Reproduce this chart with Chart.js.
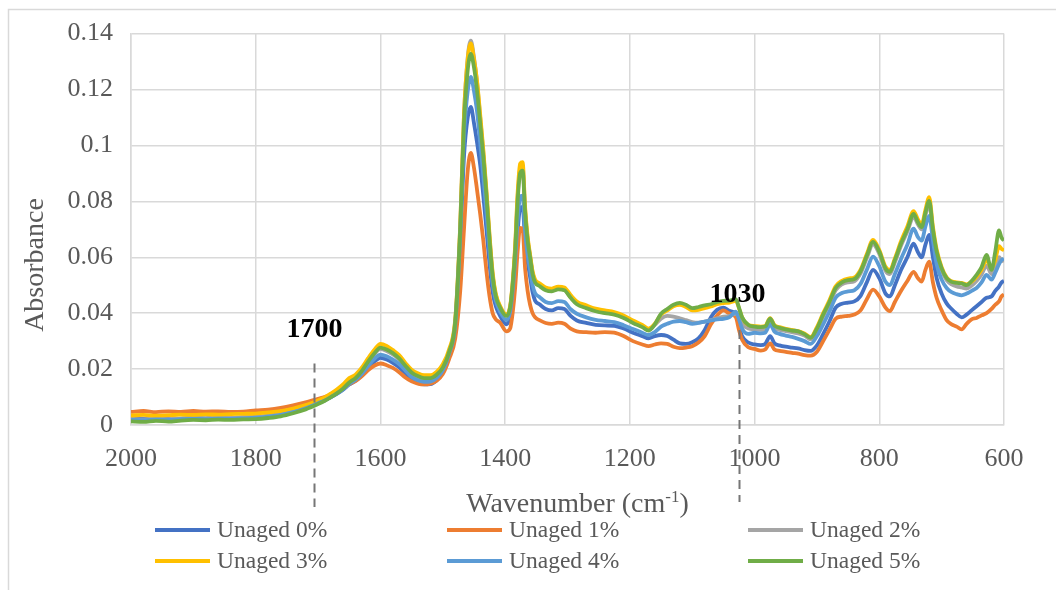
<!DOCTYPE html>
<html>
<head>
<meta charset="utf-8">
<script src="https://cdn.jsdelivr.net/npm/chart.js@4.4.1/dist/chart.umd.min.js"></script>
<style>
html,body{margin:0;padding:0;background:#fff;}
#wrap{width:1056px;height:590px;position:relative;}
canvas{display:block;}
</style>
</head>
<body>
<div id="wrap"><canvas id="c" width="1056" height="590"></canvas></div>
<script>
// ---------- DATA ----------
const wavenumbers = [
  2000,1980,1960,1940,1920,1900,1880,1860,1840,1820,1800,1780,1760,1740,1720,1700,
  1690,1680,1670,1660,1650,1640,1630,1620,1610,1600,1590,1580,1570,1560,1550,1540,1530,1520,1510,1500,
  1490,1480,1472,1466,1460,1455,1450,1445,1440,1435,1430,1425,1420,1415,1408,1398,1392,1388,1384,1380,1376,1372,1368,1364,1360,1356,1352,1345,
  1335,1325,1315,1305,1295,1285,1270,1255,1240,1225,1210,1195,1180,1170,1160,1150,1140,1130,1120,1110,1100,1090,1080,1070,1060,1050,1040,1030,1025,1020,1010,1000,990,983,975,968,960,950,940,930,920,910,
  900,890,880,870,860,850,840,830,820,810,800,790,783,775,765,755,745,738,732,726,720,714,708,700,692,684,676,668,660,652,644,636,628,620,614,608,604,600
];

const unaged0 = [
  0.0021,0.0023,0.0020,0.0024,0.0022,0.0025,0.0024,0.0026,0.0025,0.0027,0.0029,0.0033,0.0039,0.0049,0.0063,0.0080,
  0.0088,0.0099,0.0111,0.0126,0.0145,0.0158,0.0178,0.0203,0.0226,0.0240,0.0234,0.0222,0.0206,0.0184,0.0162,0.0150,0.0145,0.0146,0.0160,0.0188,
  0.0250,0.0350,0.0650,0.0960,0.1100,0.1138,0.1080,0.1010,0.0930,0.0820,0.0700,0.0575,0.0475,0.0425,0.0390,0.0360,0.0390,0.0460,0.0560,0.0690,0.0775,0.0780,0.0660,0.0585,0.0530,0.0475,0.0445,0.0432,
  0.0415,0.0410,0.0418,0.0415,0.0390,0.0374,0.0365,0.0358,0.0356,0.0355,0.0345,0.0330,0.0318,0.0310,0.0318,0.0322,0.0318,0.0305,0.0292,0.0290,0.0296,0.0310,0.0340,0.0385,0.0412,0.0420,0.0408,0.0398,0.0355,0.0318,0.0295,0.0288,0.0286,0.0290,0.0318,0.0292,0.0285,0.0280,0.0277,0.0274,0.0268,0.0265,
  0.0285,0.0325,0.0370,0.0420,0.0434,0.0438,0.0442,0.0462,0.0510,0.0555,0.0525,0.0470,0.0460,0.0500,0.0555,0.0600,0.0649,0.0618,0.0600,0.0645,0.0680,0.0600,0.0525,0.0470,0.0435,0.0415,0.0398,0.0385,0.0395,0.0410,0.0425,0.0440,0.0455,0.0460,0.0480,0.0495,0.0510,0.0515
];

const unaged1 = [
  0.0047,0.0050,0.0046,0.0049,0.0047,0.0050,0.0048,0.0049,0.0047,0.0048,0.0052,0.0055,0.0061,0.0070,0.0081,0.0094,
  0.0100,0.0108,0.0118,0.0131,0.0146,0.0157,0.0174,0.0196,0.0212,0.0220,0.0214,0.0204,0.0189,0.0170,0.0156,0.0148,0.0145,0.0148,0.0158,0.0182,
  0.0235,0.0310,0.0480,0.0700,0.0910,0.0973,0.0920,0.0840,0.0755,0.0660,0.0550,0.0460,0.0400,0.0378,0.0366,0.0335,0.0345,0.0400,0.0490,0.0620,0.0705,0.0700,0.0560,0.0480,0.0430,0.0400,0.0385,0.0375,
  0.0365,0.0362,0.0366,0.0362,0.0345,0.0335,0.0332,0.0330,0.0332,0.0330,0.0318,0.0300,0.0288,0.0282,0.0288,0.0292,0.0290,0.0280,0.0275,0.0277,0.0282,0.0295,0.0318,0.0360,0.0392,0.0410,0.0398,0.0385,0.0340,0.0305,0.0278,0.0272,0.0266,0.0270,0.0292,0.0270,0.0265,0.0262,0.0258,0.0255,0.0250,0.0248,
  0.0262,0.0300,0.0340,0.0380,0.0388,0.0390,0.0395,0.0410,0.0450,0.0484,0.0460,0.0420,0.0407,0.0440,0.0480,0.0515,0.0548,0.0525,0.0513,0.0555,0.0584,0.0510,0.0454,0.0410,0.0375,0.0360,0.0352,0.0342,0.0362,0.0378,0.0383,0.0392,0.0400,0.0415,0.0430,0.0442,0.0460,0.0467
];

const unaged2 = [
  0.0022,0.0020,0.0023,0.0021,0.0024,0.0025,0.0024,0.0026,0.0025,0.0027,0.0029,0.0033,0.0039,0.0049,0.0062,0.0080,
  0.0090,0.0103,0.0117,0.0134,0.0155,0.0170,0.0192,0.0223,0.0252,0.0272,0.0265,0.0252,0.0234,0.0208,0.0184,0.0171,0.0164,0.0164,0.0176,0.0202,
  0.0262,0.0375,0.0715,0.1110,0.1315,0.1375,0.1315,0.1225,0.1100,0.0975,0.0830,0.0670,0.0538,0.0465,0.0422,0.0392,0.0422,0.0505,0.0630,0.0815,0.0915,0.0925,0.0770,0.0668,0.0605,0.0545,0.0515,0.0500,
  0.0485,0.0480,0.0487,0.0484,0.0457,0.0435,0.0420,0.0409,0.0402,0.0397,0.0385,0.0367,0.0352,0.0340,0.0358,0.0380,0.0390,0.0388,0.0382,0.0375,0.0368,0.0366,0.0370,0.0375,0.0382,0.0388,0.0390,0.0398,0.0385,0.0362,0.0345,0.0342,0.0340,0.0342,0.0370,0.0346,0.0340,0.0336,0.0332,0.0328,0.0320,0.0306,
  0.0338,0.0388,0.0432,0.0482,0.0503,0.0510,0.0514,0.0542,0.0597,0.0646,0.0612,0.0552,0.0540,0.0582,0.0642,0.0692,0.0745,0.0717,0.0700,0.0750,0.0790,0.0690,0.0612,0.0553,0.0518,0.0503,0.0496,0.0492,0.0488,0.0498,0.0515,0.0538,0.0570,0.0540,0.0565,0.0600,0.0590,0.0585
];

const unaged3 = [
  0.0034,0.0036,0.0033,0.0035,0.0037,0.0036,0.0038,0.0037,0.0039,0.0040,0.0041,0.0045,0.0050,0.0059,0.0071,0.0088,
  0.0098,0.0112,0.0127,0.0145,0.0168,0.0180,0.0205,0.0238,0.0268,0.0290,0.0283,0.0268,0.0250,0.0222,0.0198,0.0185,0.0178,0.0178,0.0190,0.0218,
  0.0270,0.0380,0.0720,0.1110,0.1310,0.1365,0.1310,0.1230,0.1110,0.0985,0.0840,0.0680,0.0545,0.0470,0.0425,0.0395,0.0425,0.0510,0.0640,0.0830,0.0935,0.0940,0.0780,0.0675,0.0610,0.0550,0.0520,0.0507,
  0.0492,0.0488,0.0495,0.0492,0.0465,0.0442,0.0428,0.0416,0.0410,0.0404,0.0392,0.0374,0.0358,0.0345,0.0362,0.0395,0.0410,0.0425,0.0430,0.0422,0.0410,0.0412,0.0418,0.0424,0.0432,0.0436,0.0438,0.0444,0.0418,0.0385,0.0358,0.0354,0.0352,0.0354,0.0382,0.0357,0.0350,0.0344,0.0340,0.0336,0.0327,0.0315,
  0.0350,0.0400,0.0446,0.0496,0.0516,0.0524,0.0528,0.0556,0.0612,0.0662,0.0626,0.0566,0.0554,0.0596,0.0658,0.0710,0.0765,0.0735,0.0718,0.0770,0.0815,0.0710,0.0628,0.0565,0.0528,0.0514,0.0510,0.0508,0.0503,0.0512,0.0530,0.0555,0.0590,0.0560,0.0590,0.0640,0.0630,0.0625
];

const unaged4 = [
  0.0019,0.0017,0.0020,0.0018,0.0021,0.0022,0.0021,0.0023,0.0022,0.0024,0.0026,0.0030,0.0036,0.0046,0.0060,0.0078,
  0.0087,0.0099,0.0112,0.0128,0.0148,0.0162,0.0183,0.0210,0.0236,0.0252,0.0246,0.0234,0.0218,0.0195,0.0172,0.0160,0.0154,0.0155,0.0168,0.0195,
  0.0255,0.0360,0.0680,0.1030,0.1195,0.1245,0.1195,0.1120,0.1010,0.0890,0.0760,0.0620,0.0505,0.0445,0.0405,0.0375,0.0405,0.0480,0.0590,0.0730,0.0815,0.0820,0.0690,0.0610,0.0555,0.0500,0.0472,0.0458,
  0.0440,0.0436,0.0443,0.0440,0.0414,0.0398,0.0385,0.0376,0.0372,0.0368,0.0357,0.0343,0.0330,0.0322,0.0332,0.0352,0.0362,0.0370,0.0372,0.0368,0.0362,0.0365,0.0370,0.0374,0.0378,0.0380,0.0386,0.0405,0.0378,0.0345,0.0326,0.0330,0.0328,0.0330,0.0360,0.0334,0.0326,0.0320,0.0315,0.0308,0.0300,0.0290,
  0.0318,0.0360,0.0405,0.0455,0.0472,0.0478,0.0482,0.0505,0.0555,0.0602,0.0568,0.0512,0.0500,0.0540,0.0595,0.0645,0.0702,0.0672,0.0660,0.0710,0.0748,0.0660,0.0575,0.0520,0.0490,0.0475,0.0468,0.0464,0.0470,0.0480,0.0490,0.0510,0.0537,0.0520,0.0545,0.0575,0.0590,0.0595
];

const unaged5 = [
  0.0013,0.0011,0.0015,0.0012,0.0016,0.0018,0.0017,0.0019,0.0018,0.0020,0.0021,0.0025,0.0031,0.0042,0.0056,0.0075,
  0.0086,0.0099,0.0113,0.0130,0.0152,0.0168,0.0193,0.0226,0.0256,0.0277,0.0270,0.0257,0.0238,0.0212,0.0188,0.0175,0.0168,0.0168,0.0180,0.0205,
  0.0260,0.0370,0.0700,0.1080,0.1270,0.1327,0.1280,0.1195,0.1080,0.0960,0.0820,0.0660,0.0530,0.0460,0.0420,0.0390,0.0420,0.0500,0.0620,0.0800,0.0900,0.0910,0.0760,0.0660,0.0600,0.0540,0.0510,0.0497,
  0.0482,0.0478,0.0485,0.0482,0.0455,0.0432,0.0418,0.0407,0.0400,0.0395,0.0383,0.0365,0.0350,0.0338,0.0360,0.0398,0.0415,0.0430,0.0437,0.0430,0.0418,0.0422,0.0428,0.0432,0.0440,0.0444,0.0445,0.0450,0.0420,0.0385,0.0358,0.0352,0.0350,0.0352,0.0380,0.0355,0.0348,0.0342,0.0338,0.0335,0.0325,0.0312,
  0.0345,0.0395,0.0440,0.0490,0.0510,0.0518,0.0522,0.0550,0.0605,0.0655,0.0620,0.0560,0.0548,0.0590,0.0650,0.0700,0.0755,0.0725,0.0708,0.0760,0.0802,0.0700,0.0620,0.0560,0.0525,0.0512,0.0508,0.0507,0.0500,0.0515,0.0537,0.0565,0.0608,0.0555,0.0620,0.0696,0.0670,0.0660
];

const seriesLabels = ['Unaged 0%','Unaged 1%','Unaged 2%','Unaged 3%','Unaged 4%','Unaged 5%'];
const seriesColors = ['#4472C4','#ED7D31','#A5A5A5','#FFC000','#5B9BD5','#70AD47'];
const xTickValues = [2000,1800,1600,1400,1200,1000,800,600];
const yTickValues = [0,0.02,0.04,0.06,0.08,0.1,0.12,0.14];
const markerWavenumbers = [1707,1025];
const markerTexts = ['1700','1030'];
const markerLabelValues = [0.034,0.0467];
const markerTopValues = [0.022,0.034];
const xTitle = 'Wavenumber (cm';
const xTitleSup = '-1';
const yTitle = 'Absorbance';

// ---------- CHART ----------
const SERIF = "'Liberation Serif','Times New Roman',serif";
const allSeries = [unaged0,unaged1,unaged2,unaged3,unaged4,unaged5];
const datasets = allSeries.map((arr,i)=>({
  label: seriesLabels[i],
  data: wavenumbers.map((w,k)=>({x:w,y:arr[k]})),
  borderColor: seriesColors[i],
  backgroundColor: seriesColors[i],
  borderWidth: 3.8,
  pointRadius: 0,
  fill: false,
  cubicInterpolationMode: 'monotone',
  order: allSeries.length - 1 - i
}));

const decor = {
  id: 'decor',
  beforeDraw(chart){
    const ctx = chart.ctx;
    ctx.save();
    ctx.strokeStyle = '#d9d9d9';
    ctx.lineWidth = 1.5;
    ctx.beginPath();
    ctx.moveTo(8.5, 590); ctx.lineTo(8.5, 9.5); ctx.lineTo(1056, 9.5);
    ctx.stroke();
    ctx.restore();
  },
  afterDraw(chart){
    const ctx = chart.ctx;
    const xs = chart.scales.x, ys = chart.scales.y;
    ctx.save();
    // marker dashed lines and labels
    const bottoms = [507, 502];
    markerWavenumbers.forEach((w,i)=>{
      const px = Math.round(xs.getPixelForValue(w)) + 0.5;
      ctx.strokeStyle = '#767676';
      ctx.lineWidth = 2;
      ctx.setLineDash([9,6]);
      ctx.beginPath();
      ctx.moveTo(px, ys.getPixelForValue(markerTopValues[i]));
      ctx.lineTo(px, bottoms[i]);
      ctx.stroke();
      ctx.setLineDash([]);
      ctx.fillStyle = '#000';
      ctx.font = "bold 28px " + SERIF;
      ctx.textAlign = 'center';
      ctx.textBaseline = 'middle';
      ctx.fillText(markerTexts[i], px + (i===1?-2:0), ys.getPixelForValue(markerLabelValues[i]));
    });
    // x title with superscript
    ctx.fillStyle = '#595959';
    ctx.textBaseline = 'alphabetic';
    ctx.textAlign = 'left';
    ctx.font = "28px " + SERIF;
    const w1 = ctx.measureText(xTitle).width;
    const w3 = ctx.measureText(')').width;
    ctx.font = "17px " + SERIF;
    const w2 = ctx.measureText(xTitleSup).width;
    const total = w1 + w2 + w3;
    let sx = (chart.chartArea.left + chart.chartArea.right)/2 + 10 - total/2;
    const by = 512;
    ctx.font = "28px " + SERIF;
    ctx.fillText(xTitle, sx, by);
    ctx.font = "17px " + SERIF;
    ctx.fillText(xTitleSup, sx + w1, by - 10);
    ctx.font = "28px " + SERIF;
    ctx.fillText(')', sx + w1 + w2, by);
    // y title
    ctx.save();
    ctx.translate(43, 265);
    ctx.rotate(-Math.PI/2);
    ctx.textAlign = 'center';
    ctx.textBaseline = 'alphabetic';
    ctx.fillText(yTitle, 0, 0);
    ctx.restore();
    // legend
    const cols = [155, 447, 748];
    const rows = [530, 561];
    ctx.font = "23.5px " + SERIF;
    ctx.textBaseline = 'middle';
    ctx.textAlign = 'left';
    chart.data.datasets.forEach((ds,i)=>{
      const cx = cols[i%3], cy = rows[Math.floor(i/3)];
      ctx.strokeStyle = ds.borderColor;
      ctx.lineWidth = 4;
      ctx.beginPath();
      ctx.moveTo(cx, cy); ctx.lineTo(cx+55, cy);
      ctx.stroke();
      ctx.fillStyle = '#595959';
      ctx.fillText(ds.label, cx + 62, cy + 1);
    });
    ctx.restore();
  }
};

new Chart(document.getElementById('c'), {
  type: 'line',
  data: { datasets },
  options: {
    responsive: false,
    animation: false,
    devicePixelRatio: 1,
    layout: { padding: { left: 0, top: 27, right: 52, bottom: 0 } },
    plugins: { legend: { display: false }, tooltip: { enabled: false } },
    scales: {
      x: {
        type: 'linear',
        reverse: true,
        min: 600, max: 2000,
        afterBuildTicks(s){ s.ticks = xTickValues.map(v=>({value:v})); },
        afterFit(s){ s.height = 165; },
        ticks: {
          callback: v => String(v),
          font: { family: SERIF, size: 26 },
          color: '#595959',
          padding: 19,
          maxRotation: 0,
          autoSkip: false
        },
        grid: { color: '#d9d9d9', lineWidth: 1.5, drawTicks: false },
        border: { color: '#d9d9d9', width: 1.5 }
      },
      y: {
        min: 0, max: 0.14,
        afterBuildTicks(s){ s.ticks = yTickValues.map(v=>({value:v})); },
        afterFit(s){ s.width = 131; },
        ticks: {
          callback: v => String(+v.toFixed(2)),
          font: { family: SERIF, size: 26 },
          color: '#595959',
          padding: 18,
          autoSkip: false
        },
        grid: { color: '#d9d9d9', lineWidth: 1.5, drawTicks: false },
        border: { color: '#d9d9d9', width: 1.5 }
      }
    }
  },
  plugins: [decor]
});
</script>
</body>
</html>
